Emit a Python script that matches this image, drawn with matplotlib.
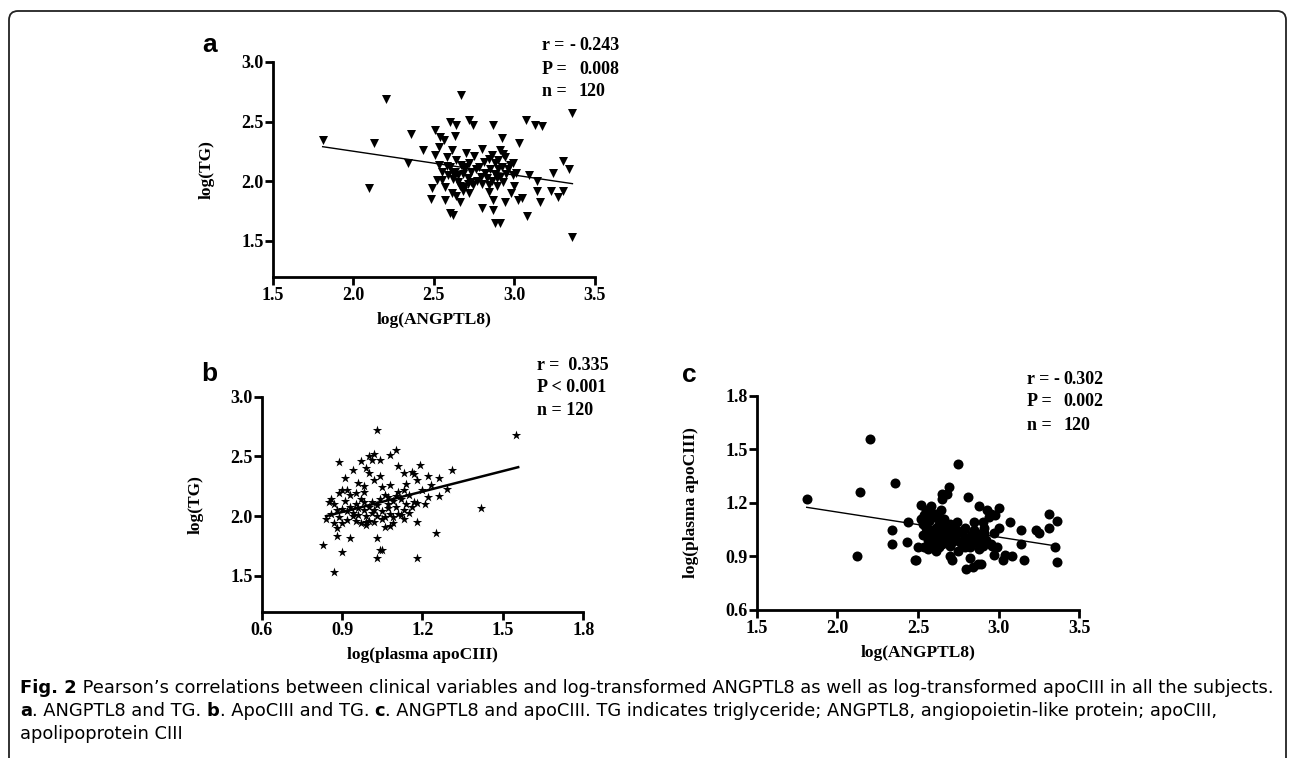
"""Fig. 2: Pearson correlations of log ANGPTL8, log apoCIII and log TG (three scatter panels)."""

import matplotlib

matplotlib.use("Agg")
import matplotlib.pyplot as plt
from matplotlib.patches import FancyBboxPatch
from matplotlib.transforms import IdentityTransform

W, H = 1292, 758
SERIF = "Liberation Serif"
SANS = "Liberation Sans"
CAPTION_FONT = ["Liberation Sans Narrow", "DejaVu Sans Condensed", "DejaVu Sans"]

plt.rcParams.update({
    "font.family": SERIF,
    "font.weight": "bold",
    "axes.labelweight": "bold",
})

# ---- panel a: log(ANGPTL8) vs log(TG) ----
angptl8_a = [
    1.81, 2.10, 2.13, 2.20, 2.34, 2.36, 2.43, 2.48, 2.49, 2.51, 2.51, 2.52, 2.53, 2.54,
    2.55, 2.56, 2.57, 2.58, 2.59, 2.60, 2.60, 2.61, 2.62, 2.62, 2.63, 2.64, 2.64, 2.65,
    2.66, 2.67, 2.68, 2.69, 2.70, 2.71, 2.72, 2.72, 2.73, 2.74, 2.76, 2.79, 2.80, 2.80,
    2.82, 2.84, 2.84, 2.87, 2.87, 2.87, 2.88, 2.88, 2.89, 2.90, 2.91, 2.91, 2.92, 2.93,
    2.94, 2.94, 2.96, 2.99, 3.00, 3.01, 3.02, 3.03, 3.05, 3.07, 3.08, 3.09, 3.13, 3.14,
    3.14, 3.16, 3.17, 3.23, 3.24, 3.27, 3.30, 3.30, 3.34, 3.36, 3.36,
    2.58, 2.60, 2.62, 2.63, 2.65, 2.66, 2.67, 2.68, 2.69, 2.70, 2.71, 2.73, 2.74, 2.75,
    2.77, 2.78, 2.80, 2.81, 2.83, 2.85, 2.86, 2.86, 2.88, 2.89, 2.90, 2.91, 2.92, 2.93,
    2.95, 2.97, 2.98, 2.55, 2.53, 2.57, 2.61, 2.64, 2.72, 2.84, 2.99,
]
tg_a = [
    2.35, 1.94, 2.32, 2.69, 2.15, 2.40, 2.26, 1.85, 1.94, 2.43, 2.22, 2.01, 2.29, 2.37,
    2.01, 2.35, 1.84, 2.13, 2.05, 2.50, 1.73, 1.90, 2.07, 1.72, 2.38, 2.47, 2.18, 1.99,
    1.83, 2.72, 1.92, 2.10, 2.24, 1.98, 2.51, 2.15, 1.99, 2.47, 2.10, 2.04, 2.27, 1.78,
    2.07, 2.19, 1.97, 1.84, 2.47, 1.76, 2.15, 1.65, 2.03, 2.10, 1.65, 2.26, 2.36, 1.99,
    1.83, 2.20, 2.10, 2.15, 1.96, 2.07, 1.84, 2.32, 1.86, 2.51, 1.71, 2.05, 2.47, 2.00,
    1.92, 1.83, 2.46, 1.92, 2.07, 1.87, 1.92, 2.17, 2.10, 2.57, 1.53,
    2.20, 2.12, 2.02, 2.08, 2.05, 1.96, 2.14, 2.06, 1.95, 2.12, 2.03, 2.08, 1.97, 2.21,
    2.00, 2.12, 1.98, 2.16, 2.03, 2.10, 2.00, 2.22, 2.06, 1.96, 2.18, 2.04, 2.12, 2.23,
    2.06, 2.14, 1.90, 2.08, 2.14, 1.95, 2.26, 1.88, 1.90, 1.91, 2.05,
]
fit_a_x = [1.81, 3.36]
fit_a_y = [2.29, 1.98]
stats_a = [("r =", "-", "0.243"), ("P =", "", "0.008"), ("n =", "", "120")]

# ---- panel b: log(plasma apoCIII) vs log(TG) ----
apoc3_b = [
    0.83, 0.84, 0.86, 0.87, 0.87, 0.88, 0.89, 0.89, 0.90, 0.90, 0.90, 0.91, 0.92, 0.93,
    0.94, 0.94, 0.95, 0.96, 0.97, 0.98, 0.98, 0.99, 0.99, 1.00, 1.01, 1.02, 1.02, 1.03,
    1.03, 1.03, 1.04, 1.04, 1.04, 1.05, 1.05, 1.06, 1.07, 1.07, 1.08, 1.08, 1.09, 1.10,
    1.10, 1.11, 1.11, 1.13, 1.13, 1.13, 1.14, 1.16, 1.16, 1.17, 1.18, 1.18, 1.18, 1.19,
    1.22, 1.22, 1.23, 1.25, 1.26, 1.26, 1.29, 1.31, 1.42, 1.55,
    0.85, 0.86, 0.87, 0.88, 0.89, 0.90, 0.91, 0.92, 0.93, 0.93, 0.94, 0.95, 0.95, 0.96,
    0.97, 0.97, 0.98, 0.98, 0.99, 1.00, 1.00, 1.01, 1.01, 1.02, 1.03, 1.03, 1.04, 1.05,
    1.06, 1.06, 1.07, 1.08, 1.09, 1.09, 1.10, 1.11, 1.12, 1.12, 1.14, 1.15, 1.15, 1.17,
    1.20, 1.21, 0.96, 0.99, 1.02, 1.05, 0.92, 0.88, 1.08, 1.00, 1.18, 1.13,
]
tg_b = [
    1.76, 1.98, 2.14, 1.53, 1.94, 1.83, 2.45, 2.19, 1.70, 1.94, 2.22, 2.32, 2.04, 1.82,
    2.00, 2.39, 2.19, 2.07, 2.46, 2.12, 2.25, 1.95, 1.93, 2.50, 2.47, 2.05, 2.52, 1.65,
    2.72, 1.82, 1.72, 2.34, 2.47, 1.98, 1.72, 1.91, 2.07, 2.16, 2.26, 2.51, 1.94, 2.17,
    2.55, 2.02, 2.42, 1.98, 2.36, 2.05, 2.27, 2.37, 2.08, 2.35, 1.95, 1.65, 2.11, 2.43,
    2.16, 2.34, 2.26, 1.86, 2.32, 2.17, 2.23, 2.39, 2.07, 2.68,
    2.12, 2.02, 2.10, 2.05, 1.99, 2.06, 2.13, 1.97, 2.08, 2.18, 2.03, 2.10, 1.96, 2.01,
    2.14, 1.94, 2.05, 2.20, 2.00, 2.08, 1.96, 2.12, 2.03, 1.95, 2.09, 2.00, 2.14, 2.04,
    2.18, 1.99, 2.10, 2.02, 2.13, 1.99, 2.08, 2.20, 2.01, 2.14, 2.10, 2.03, 2.18, 2.12,
    2.22, 2.10, 2.28, 2.40, 2.30, 2.24, 2.22, 1.90, 1.92, 2.36, 2.30, 2.22,
]
fit_b_x = [0.84, 1.557]
fit_b_y = [2.00, 2.41]
stats_b = ["r =  0.335", "P < 0.001", "n = 120"]

# ---- panel c: log(ANGPTL8) vs log(plasma apoCIII) ----
angptl8_c = [
    1.81, 2.12, 2.14, 2.20, 2.34, 2.34, 2.36, 2.43, 2.44, 2.48, 2.49, 2.50, 2.52, 2.52,
    2.53, 2.54, 2.55, 2.56, 2.57, 2.58, 2.60, 2.61, 2.63, 2.63, 2.64, 2.65, 2.65, 2.66,
    2.67, 2.68, 2.69, 2.69, 2.70, 2.70, 2.71, 2.72, 2.73, 2.75, 2.75, 2.79, 2.80, 2.81,
    2.82, 2.83, 2.84, 2.85, 2.86, 2.87, 2.88, 2.88, 2.89, 2.90, 2.91, 2.93, 2.95, 2.96,
    2.97, 2.98, 2.99, 3.00, 3.00, 3.03, 3.04, 3.07, 3.08, 3.14, 3.14, 3.16, 3.23, 3.25,
    3.31, 3.31, 3.35, 3.36, 3.36,
    2.53, 2.55, 2.56, 2.57, 2.58, 2.59, 2.60, 2.61, 2.62, 2.62, 2.63, 2.64, 2.65, 2.66,
    2.67, 2.68, 2.69, 2.70, 2.71, 2.72, 2.73, 2.74, 2.76, 2.77, 2.78, 2.79, 2.80, 2.82,
    2.83, 2.84, 2.85, 2.86, 2.87, 2.88, 2.89, 2.90, 2.91, 2.92, 2.94, 2.95, 2.58, 2.61,
    2.75, 2.97, 2.54,
]
apoc3_c = [
    1.22, 0.90, 1.26, 1.56, 1.05, 0.97, 1.31, 0.98, 1.09, 0.88, 0.88, 0.95, 1.19, 1.11,
    1.08, 0.95, 1.16, 0.94, 1.13, 1.18, 1.05, 1.01, 1.08, 0.95, 1.16, 1.25, 1.22, 1.03,
    1.00, 1.25, 1.29, 1.07, 0.96, 0.90, 0.88, 1.03, 0.99, 1.42, 1.04, 0.95, 0.83, 1.23,
    0.89, 0.97, 0.84, 1.09, 1.03, 0.86, 1.18, 0.97, 0.86, 1.09, 1.03, 1.16, 1.14, 0.96,
    0.91, 1.13, 0.95, 1.06, 1.17, 0.88, 0.91, 1.09, 0.90, 1.05, 0.97, 0.88, 1.05, 1.03,
    1.14, 1.06, 0.95, 1.10, 0.87,
    1.02, 1.06, 0.99, 1.10, 1.03, 0.97, 1.12, 1.06, 0.99, 1.14, 1.03, 1.09, 0.97, 1.11,
    1.05, 0.99, 1.02, 1.08, 0.98, 1.06, 1.01, 1.09, 0.98, 1.03, 0.96, 1.06, 1.00, 0.95,
    1.02, 0.98, 1.05, 0.99, 1.02, 0.94, 1.00, 0.96, 1.06, 0.99, 1.12, 0.97, 1.15, 0.93,
    0.93, 1.03, 1.13,
]
fit_c_x = [1.81, 3.36]
fit_c_y = [1.175, 0.958]
stats_c = [("r =", "-", "0.302"), ("P =", "", "0.002"), ("n =", "", "120")]

CAPTION_1 = ("Fig. 2", " Pearson\u2019s correlations between clinical variables and log-transformed "
             "ANGPTL8 as well as log-transformed apoCIII in all the subjects.")
CAPTION_2 = [("a", ". ANGPTL8 and TG. "), ("b", ". ApoCIII and TG. "),
             ("c", ". ANGPTL8 and apoCIII. TG indicates triglyceride; ANGPTL8, "
                   "angiopoietin-like protein; apoCIII,")]
CAPTION_3 = "apolipoprotein CIII"

TICK_SIZE = 13
STAT_SIZE = 13
LABEL_SIZE = 12.5


def fig_xy(px, py):
    return px / W, 1 - py / H


def make_axes(fig, left, top, right, bottom):
    x0, y0 = fig_xy(left, bottom)
    x1, y1 = fig_xy(right, top)
    ax = fig.add_axes([x0, y0, x1 - x0, y1 - y0])
    for side in ("top", "right"):
        ax.spines[side].set_visible(False)
    for side in ("left", "bottom"):
        ax.spines[side].set_linewidth(2.0)
    ax.tick_params(direction="out", length=5.5, width=2.0, labelsize=TICK_SIZE)
    ax.tick_params(axis="x", pad=2.0)
    ax.tick_params(axis="y", pad=1.0)
    return ax


def labels(ax, xlabel, ylabel):
    ax.set_xlabel(xlabel, fontsize=LABEL_SIZE, va="center")
    ax.set_ylabel(ylabel, fontsize=LABEL_SIZE, va="center")
    ax.xaxis.set_label_coords(0.5, -0.20)
    ax.yaxis.set_label_coords(-0.205, 0.5)


def stat_block(fig, x_label, x_value, ys, rows):
    for y, (lab, sign, val) in zip(ys, rows):
        fig.text(*fig_xy(x_label, y), lab, fontsize=STAT_SIZE, va="center")
        fig.text(*fig_xy(x_value, y), val, fontsize=STAT_SIZE, va="center")
        if sign:
            fig.text(*fig_xy(x_value - 4, y), sign, fontsize=STAT_SIZE, va="center", ha="right")


def panel_letter(fig, x, y, letter):
    fig.text(*fig_xy(x, y), letter, family=SANS, fontsize=19, ha="center", va="center")


fig = plt.figure(figsize=(W / 100, H / 100), dpi=100)

# panel a
ax_a = make_axes(fig, 272.7, 62, 595, 276.7)
ax_a.scatter(angptl8_a, tg_a, marker="v", s=42, color="black", linewidths=0)
ax_a.plot(fit_a_x, fit_a_y, color="black", lw=1.0)
ax_a.set_xlim(1.5, 3.5)
ax_a.set_ylim(1.2, 3.0)
ax_a.set_xticks([1.5, 2.0, 2.5, 3.0, 3.5])
ax_a.set_yticks([1.5, 2.0, 2.5, 3.0])
labels(ax_a, "log(ANGPTL8)", "log(TG)")
stat_block(fig, 541.7, 579, [46, 69, 91.5], stats_a)
panel_letter(fig, 210, 45, "a")

# panel b
ax_b = make_axes(fig, 261.7, 396.7, 583.3, 611.7)
ax_b.scatter(apoc3_b, tg_b, marker="*", s=50, color="black", linewidths=0)
ax_b.plot(fit_b_x, fit_b_y, color="black", lw=1.8)
ax_b.set_xlim(0.6, 1.8)
ax_b.set_ylim(1.2, 3.0)
ax_b.set_xticks([0.6, 0.9, 1.2, 1.5, 1.8])
ax_b.set_yticks([1.5, 2.0, 2.5, 3.0])
labels(ax_b, "log(plasma apoCIII)", "log(TG)")
for y, line in zip([366, 388, 410.7], stats_b):
    fig.text(*fig_xy(536.7, y), line, fontsize=STAT_SIZE, va="center")
panel_letter(fig, 209, 374, "b")

# panel c
ax_c = make_axes(fig, 756.7, 395.7, 1079.3, 610)
ax_c.scatter(angptl8_c, apoc3_c, marker="o", s=52, color="black", linewidths=0)
ax_c.plot(fit_c_x, fit_c_y, color="black", lw=1.0)
ax_c.set_xlim(1.5, 3.5)
ax_c.set_ylim(0.6, 1.8)
ax_c.set_xticks([1.5, 2.0, 2.5, 3.0, 3.5])
ax_c.set_yticks([0.6, 0.9, 1.2, 1.5, 1.8])
labels(ax_c, "log(ANGPTL8)", "log(plasma apoCIII)")
stat_block(fig, 1026.7, 1063.3, [380, 401.7, 425], stats_c)
panel_letter(fig, 689, 375, "c")

# rounded frame (bottom runs off the page)
frame = FancyBboxPatch((9, -40), 1277, H - 11 + 40, boxstyle="round,pad=0,rounding_size=9",
                       transform=IdentityTransform(), facecolor="none", edgecolor="#222222",
                       lw=1.3, clip_on=False)
fig.patches.append(frame)

# caption: size chosen so the first line spans the frame width, as in the source
renderer = fig.canvas.get_renderer()


def caption_run(x, y, parts, size):
    for bold, rest in parts:
        tb = fig.text(*fig_xy(x, y), bold, family=CAPTION_FONT, weight="bold", fontsize=size,
                      va="center")
        x += tb.get_window_extent(renderer).width
        tr = fig.text(*fig_xy(x, y), rest, family=CAPTION_FONT, weight="normal", fontsize=size,
                      va="center")
        x += tr.get_window_extent(renderer).width
    return x


probe = fig.text(0, 0, CAPTION_1[0] + CAPTION_1[1], family=CAPTION_FONT, weight="normal",
                 fontsize=10)
probe_w = probe.get_window_extent(renderer).width
probe.remove()
cap_size = 10 * 1245 / probe_w

caption_run(20, 688, [CAPTION_1], cap_size)
caption_run(20, 711, CAPTION_2, cap_size)
fig.text(*fig_xy(20, 734), CAPTION_3, family=CAPTION_FONT, weight="normal", fontsize=cap_size,
         va="center")

fig.savefig("out.png", dpi=100)
